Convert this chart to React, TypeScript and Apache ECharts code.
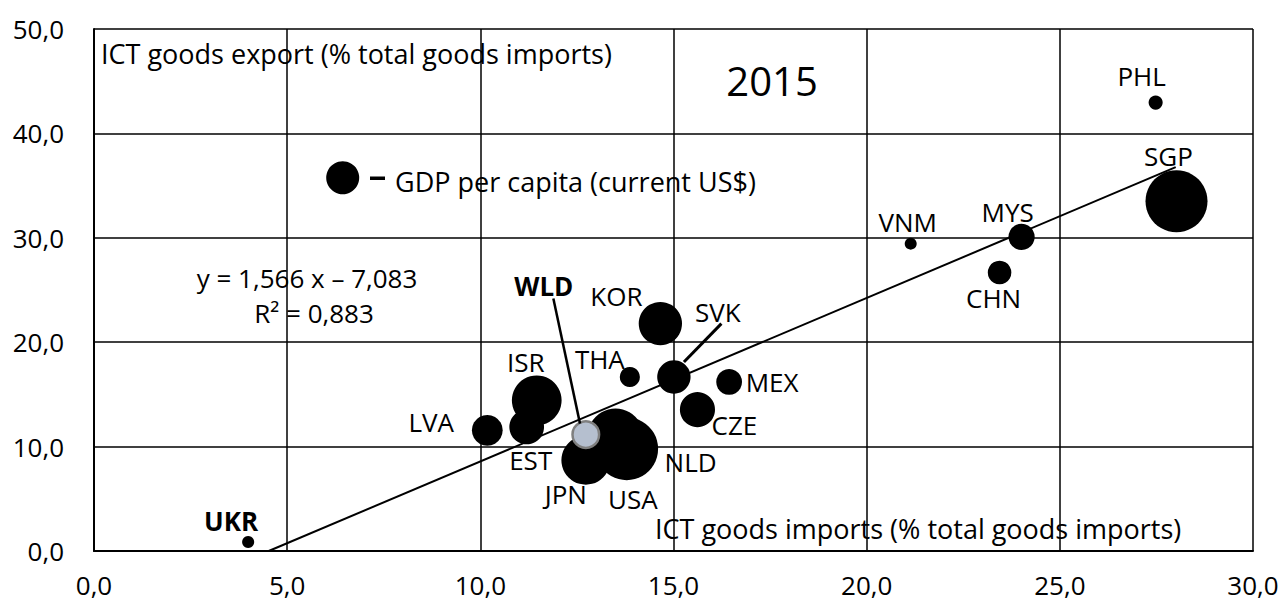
import React, { useEffect, useRef } from "react";
import * as echarts from "echarts";

// Countries: [ICT goods imports %, ICT goods export %, GDP per capita (current US$)]
const countries = ["UKR", "PHL", "SGP", "MYS", "VNM", "CHN", "KOR", "SVK", "THA", "MEX", "CZE", "ISR", "LVA", "EST", "JPN", "USA", "NLD"];
const importsPct = [3.99, 27.48, 28.02, 24.01, 21.14, 23.44, 14.66, 15.01, 13.87, 16.44, 15.62, 11.46, 10.18, 11.2, 12.73, 13.79, 13.5];
const exportsPct = [0.86, 42.95, 33.5, 30.08, 29.44, 26.67, 21.78, 16.67, 16.67, 16.19, 13.54, 14.43, 11.56, 11.88, 8.69, 9.79, 10.96];
const gdpPerCapita = [2120, 2870, 55600, 9950, 2080, 8030, 27100, 16100, 5840, 9600, 17800, 35800, 13700, 17400, 34500, 56800, 45200];

const world = { name: "WLD", imports: 12.73, exports: 11.15, gdp: 10250 };

const xTicks = [0, 5, 10, 15, 20, 25, 30];
const yTicks = [0, 10, 20, 30, 40, 50];

const trendSlope = 1.566;
const trendIntercept = -7.083;
const trendXEnd = 28.0;

// label placements (offset from bubble centre, px)
const labelOffsets: Record<string, [number, number]> = {
  UKR: [-17, -21], PHL: [-14, -27], SGP: [-8, -45], MYS: [-14, -25], VNM: [-3, -22],
  CHN: [-6, 25], KOR: [-44, -28], SVK: [44, -65], THA: [-30, -18], MEX: [43, 0],
  CZE: [37, 15], ISR: [-11, -38], LVA: [-56, -8], EST: [4, 33], JPN: [-20, 34],
  USA: [6, 50], NLD: [75, 25], WLD: [-42, -149],
};

const FONT = "'Open Sans', Lato, sans-serif";
const fmt = (v: number) => v.toFixed(1).replace(".", ",");
const sizeOf = (gdp: number) => 0.263 * Math.sqrt(gdp);

export default function App() {
  const ref = useRef<HTMLDivElement>(null);
  useEffect(() => {
    document.body.style.margin = "0";
    const chart = echarts.init(ref.current!, null, { renderer: "svg" });
    const bubbleData = countries.map((c, i) => ({
      value: [importsPct[i], exportsPct[i], gdpPerCapita[i]],
      name: c,
      label: {
        show: true,
        position: "inside",
        offset: labelOffsets[c],
        formatter: c,
        fontWeight: c === "UKR" ? "bold" : "normal",
      },
    }));
    const x0 = -trendIntercept / trendSlope;
    chart.setOption({
      animation: false,
      backgroundColor: "#fff",
      textStyle: { fontFamily: FONT },
      grid: { left: 94, right: 32, top: 29, bottom: 53 },
      xAxis: {
        type: "value", min: xTicks[0], max: xTicks[xTicks.length - 1], interval: 5,
        axisLine: { show: true, lineStyle: { color: "#000", width: 2 } },
        axisTick: { show: false },
        splitLine: { show: true, lineStyle: { color: "#000", width: 1.5 } },
        axisLabel: { formatter: fmt, color: "#000", fontSize: 26, margin: 20, lineHeight: 28, fontFamily: FONT },
      },
      yAxis: {
        type: "value", min: yTicks[0], max: yTicks[yTicks.length - 1], interval: 10,
        axisLine: { show: true, lineStyle: { color: "#000", width: 2 } },
        axisTick: { show: false },
        splitLine: { show: true, lineStyle: { color: "#000", width: 1.5 } },
        axisLabel: { formatter: fmt, color: "#000", fontSize: 26, margin: 30, fontFamily: FONT },
      },
      series: [
        {
          type: "scatter",
          data: bubbleData,
          symbolSize: (v: number[]) => sizeOf(v[2]),
          itemStyle: { color: "#000", opacity: 1 },
          label: { color: "#000", fontSize: 26, fontFamily: FONT },
          z: 3,
        },
        {
          type: "scatter",
          data: [{
            value: [world.imports, world.exports, world.gdp], name: world.name,
            label: { show: true, position: "inside", offset: labelOffsets.WLD, formatter: world.name, fontWeight: "bold" },
          }],
          symbolSize: (v: number[]) => sizeOf(v[2]),
          itemStyle: { color: "#b5bfcf", borderColor: "#7f7f7f", borderWidth: 2.5, opacity: 1 },
          label: { color: "#000", fontSize: 26, fontFamily: FONT },
          z: 4,
        },
        {
          type: "line",
          data: [[x0, 0], [trendXEnd, trendSlope * trendXEnd + trendIntercept]],
          symbol: "none",
          lineStyle: { color: "#000", width: 2 },
          z: 5,
        },
        {
          type: "line",
          data: [[11.89, 24.18], [12.58, 12.2]],
          symbol: "none",
          lineStyle: { color: "#000", width: 2.5 },
          z: 5,
        },
        {
          type: "line",
          data: [[16.24, 21.78], [15.27, 18.1]],
          symbol: "none",
          lineStyle: { color: "#000", width: 3 },
          z: 5,
        },
      ],
      graphic: [
        { type: "text", x: 101, y: 53, style: { text: "ICT goods export (% total goods imports)", fontSize: 27, fontFamily: FONT, fill: "#000", verticalAlign: "middle" } },
        { type: "text", x: 655, y: 528, style: { text: "ICT goods imports (% total goods imports)", fontSize: 27, fontFamily: FONT, fill: "#000", verticalAlign: "middle" } },
        { type: "text", x: 772, y: 80, style: { text: "2015", fontSize: 40, fontFamily: FONT, fill: "#000", align: "center", verticalAlign: "middle" } },
        { type: "text", x: 307, y: 278, style: { text: "y = 1,566 x – 7,083", fontSize: 26, fontFamily: FONT, fill: "#000", align: "center", verticalAlign: "middle" } },
        { type: "text", x: 314, y: 313, style: { text: "R² = 0,883", fontSize: 26, fontFamily: FONT, fill: "#000", align: "center", verticalAlign: "middle" } },
        { type: "circle", shape: { cx: 342.7, cy: 177.7, r: 16.5 }, style: { fill: "#000" } },
        { type: "rect", shape: { x: 370, y: 176.5, width: 15, height: 3.5 }, style: { fill: "#000" } },
        { type: "text", x: 395, y: 181, style: { text: "GDP per capita (current US$)", fontSize: 27, fontFamily: FONT, fill: "#000", verticalAlign: "middle" } },
      ],
    });
    return () => chart.dispose();
  }, []);
  return <div ref={ref} style={{ position: "fixed", left: 0, top: 0, width: 1285, height: 604 }} />;
}
